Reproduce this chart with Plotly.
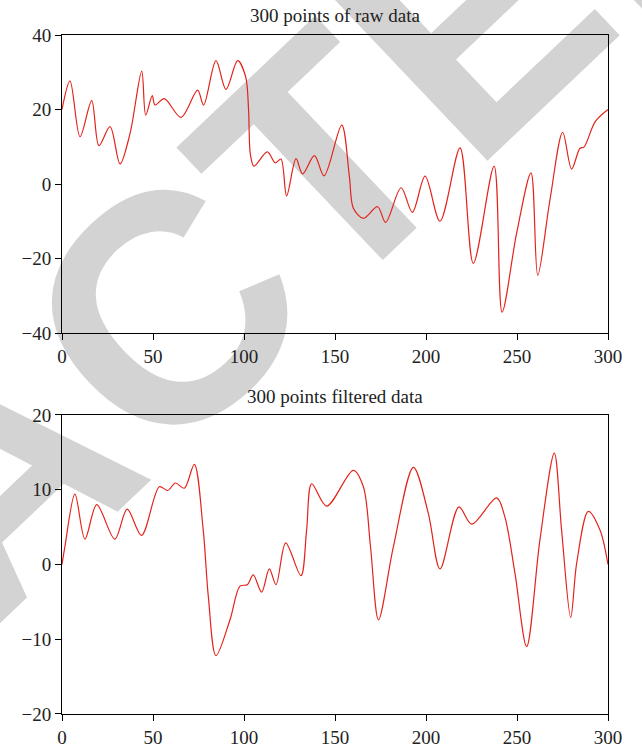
import plotly.graph_objects as go

# ---- data ----
raw_x = [0, 4.4, 9.9, 16.3, 20.3, 26.4, 31.9, 37.4, 43.8, 46, 49.6, 51.1, 56.2, 65.4, 74.5,
         77.8, 84.6, 90.1, 96.5, 100.9, 102.5, 103.5, 105.5, 112.8, 117.2, 120.3, 123.4, 128.6, 132.2, 138.7,
         144, 153.7, 157.9, 160.1, 165.6, 173.4, 177.8, 186.3, 192.5, 199.5, 207.7, 218.7, 226, 237.4, 241.8,
         249.8, 257.7, 261.4, 268.1, 275.1, 280, 284.6, 286.8, 292.9, 300]
raw_y = [20, 27.7, 12.7, 22.4, 10.3, 15.4, 5.4, 13.6, 30.3, 18.5, 23.7, 21.2, 22.9, 17.9, 25.2,
         21.2, 33.1, 25.4, 33.1, 28.8, 20, 8, 4.8, 8.6, 5.7, 6.7, -3.2, 6.8, 2.7, 7.6,
         2.2, 15.8, 2.0, -6.5, -9.2, -6.1, -10.3, -1.0, -7.6, 2.1, -10.0, 9.7, -21.3, 4.8, -34.4,
         -13.2, 3.0, -24.5, -4.3, 13.9, 4.0, 9.6, 9.9, 16.7, 20]

filt_x = [0, 1.6, 7.1, 12.6, 19.1, 29, 35.8, 43.7, 53.5, 58.1, 62.3, 67.2, 72.7, 77.6, 80.4,
          84.6, 92.3, 97.8, 101.8, 105.1, 109.7, 113.9, 117.6, 122.9, 131.3, 134.4, 137.2, 145.4, 160.1, 165.6,
          169.5, 173.9, 182.1, 193.1, 201.3, 207.7, 218.1, 225.1, 238.8, 243.3, 248.9, 255.3, 262.6, 270.5, 274.5,
          279.5, 282.8, 289.2, 295.6, 300]
filt_y = [0, 2.4, 9.4, 3.4, 8.0, 3.4, 7.4, 3.9, 10.4, 9.9, 10.9, 10.2, 13.4, 4.6, -4.3,
          -12.2, -7.4, -2.9, -2.7, -1.4, -3.7, -0.6, -2.7, 2.9, -1.5, 4.6, 10.8, 7.8, 12.6, 10.4,
          2.4, -7.4, 2.4, 13.0, 6.8, -0.6, 7.7, 5.4, 8.9, 6.4, -1.2, -11.0, 3.3, 14.9, 4.6,
          -7.1, 0.2, 7.1, 4.6, 0]

titles = ["300 points of raw data", "300 points filtered data"]
x_ticks = [0, 50, 100, 150, 200, 250, 300]
top_y_ticks = [-40, -20, 0, 20, 40]
bot_y_ticks = [-20, -10, 0, 10, 20]
watermark = "RETRACTED"

RED = "#e3231b"
SERIF = "Liberation Serif"
TXT = "#222222"

fig = go.Figure()
fig.add_trace(go.Scatter(x=raw_x, y=raw_y, mode="lines", xaxis="x", yaxis="y",
                         line=dict(color=RED, width=1.2, shape="spline", smoothing=0.9),
                         showlegend=False))
fig.add_trace(go.Scatter(x=filt_x, y=filt_y, mode="lines", xaxis="x2", yaxis="y2",
                         line=dict(color=RED, width=1.2, shape="spline", smoothing=0.9),
                         showlegend=False))

axis_common = dict(showline=True, linecolor="black", linewidth=1, mirror=True,
                   showgrid=False, zeroline=False, ticks="outside", ticklen=6,
                   tickcolor="black", tickwidth=1, automargin=False,
                   tickfont=dict(family=SERIF, size=19, color=TXT))

TOP_DOM = [0.5611, 1.0]
BOT_DOM = [0.0, 0.4404]

fig.update_layout(
    width=642, height=753,
    margin=dict(l=62, r=34, t=35, b=39),
    paper_bgcolor="white", plot_bgcolor="rgba(0,0,0,0)",
    xaxis=dict(domain=[0, 1], anchor="y", range=[0, 300], tickvals=x_ticks, **axis_common),
    yaxis=dict(domain=TOP_DOM, anchor="x", range=[-40, 40], tickvals=top_y_ticks, **axis_common),
    xaxis2=dict(domain=[0, 1], anchor="y2", range=[0, 300], tickvals=x_ticks, **axis_common),
    yaxis2=dict(domain=BOT_DOM, anchor="x2", range=[-20, 20], tickvals=bot_y_ticks, **axis_common),
    annotations=[
        dict(text=titles[0], x=0.5, y=TOP_DOM[1], xref="paper", yref="paper",
             xanchor="center", yanchor="middle", yshift=20, showarrow=False,
             font=dict(family=SERIF, size=19, color=TXT)),
        dict(text=titles[1], x=0.5, y=BOT_DOM[1], xref="paper", yref="paper",
             xanchor="center", yanchor="middle", yshift=18, showarrow=False,
             font=dict(family=SERIF, size=19, color=TXT)),
    ],
    shapes=[
        dict(type="rect", xref="paper", yref="paper",
             x0=-0.269, x1=-0.055, y0=0.280, y1=0.496,
             line=dict(width=0), fillcolor="rgba(0,0,0,0)", layer="below",
             label=dict(text=watermark, textangle=-43.5, textposition="middle center",
                        font=dict(family="Liberation Sans", size=325, color="#d3d3d3",
                                  weight="bold"))),
    ],
)

fig.write_html("out.html")
